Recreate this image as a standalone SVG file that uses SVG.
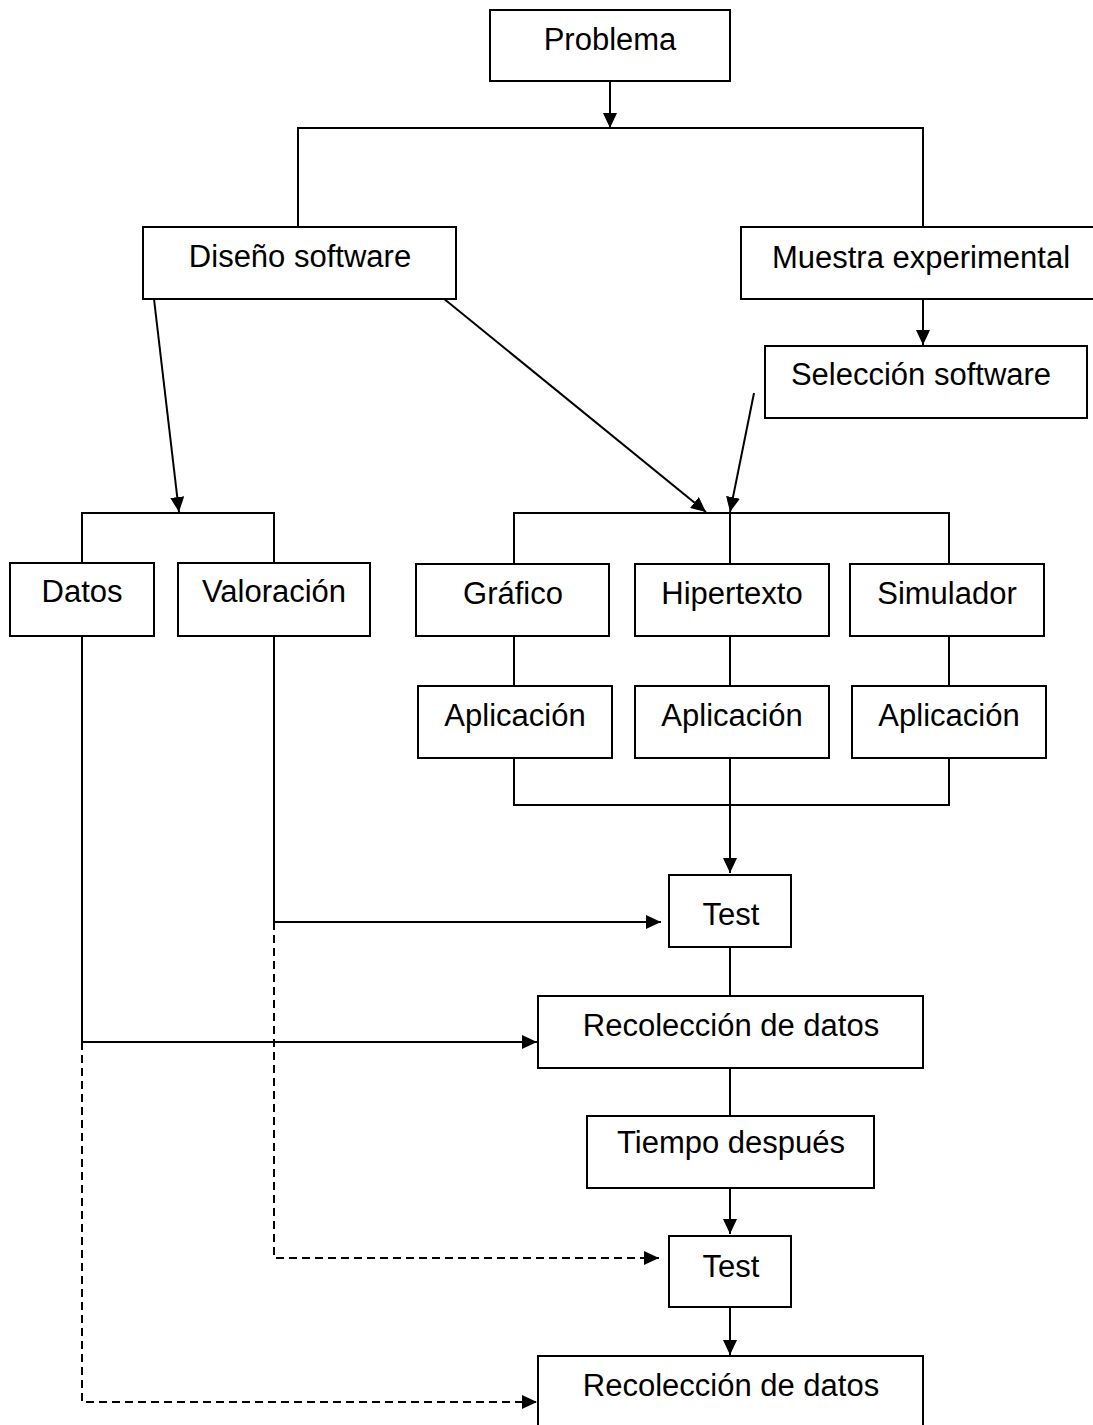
<svg xmlns="http://www.w3.org/2000/svg" width="1093" height="1425" viewBox="0 0 1093 1425">
<style>
.box{fill:#fff;stroke:#000;stroke-width:2}
.t{font-family:"Liberation Sans",Arial,sans-serif;font-size:31px;fill:#000;text-anchor:middle}
.c{fill:none;stroke:#000;stroke-width:2}
.d{stroke-dasharray:8,5}
.a{marker-end:url(#arr)}
</style>
<defs>
<marker id="arr" markerWidth="15" markerHeight="14" refX="15" refY="7" orient="auto" markerUnits="userSpaceOnUse"><path d="M0,0 L15,7 L0,14 z" fill="#000" stroke="none"/></marker>
</defs>
<rect width="1093" height="1425" fill="#fff"/>
<g id="connectors">
<path class="c a" d="M610,81 V128"/>
<path class="c" d="M298,227 V128 H923 V227"/>
<path class="c a" d="M923,299 V345"/>
<path class="c a" d="M154,299 L179,512"/>
<path class="c a" d="M443,298 L706,512"/>
<path class="c a" d="M754,393 L730,512"/>
<path class="c" d="M82,563 V513 H274 V563"/>
<path class="c" d="M514,564 V513 H949 V564 M730,513 V564"/>
<path class="c" d="M514,636 V686 M730,636 V686 M949,636 V686"/>
<path class="c" d="M514,758 V805 H949 V758 M730,758 V805"/>
<path class="c a" d="M730,805 V873"/>
<path class="c" d="M274,636 V922"/>
<path class="c a" d="M274,922 H661"/>
<path class="c" d="M730,947 V996"/>
<path class="c" d="M82,636 V1042"/>
<path class="c a" d="M82,1042 H537"/>
<path class="c" d="M730,1068 V1116"/>
<path class="c a" d="M730,1188 V1234"/>
<path class="c a" d="M730,1307 V1355"/>
<path class="c d a" d="M274,922 V1258 H659"/>
<path class="c d a" d="M82,1042 V1402 H537"/>
</g>
<g id="problema"><rect class="box" x="490" y="10" width="240" height="71"/><text class="t" x="610" y="50">Problema</text></g>
<g id="diseno"><rect class="box" x="143" y="227" width="313" height="72"/><text class="t" x="300" y="267">Diseño software</text></g>
<g id="muestra"><rect class="box" x="741" y="227" width="362" height="72"/><text class="t" x="921" y="268">Muestra experimental</text></g>
<g id="seleccion"><rect class="box" x="765" y="346" width="322" height="72"/><text class="t" x="921" y="385">Selección software</text></g>
<g id="datos"><rect class="box" x="10" y="563" width="144" height="73"/><text class="t" x="82" y="602">Datos</text></g>
<g id="valoracion"><rect class="box" x="178" y="563" width="192" height="73"/><text class="t" x="274" y="602">Valoración</text></g>
<g id="grafico"><rect class="box" x="416" y="564" width="193" height="72"/><text class="t" x="513" y="604">Gráfico</text></g>
<g id="hipertexto"><rect class="box" x="635" y="564" width="194" height="72"/><text class="t" x="732" y="604">Hipertexto</text></g>
<g id="simulador"><rect class="box" x="850" y="564" width="194" height="72"/><text class="t" x="947" y="604">Simulador</text></g>
<g id="aplicacion1"><rect class="box" x="418" y="686" width="194" height="72"/><text class="t" x="515" y="726">Aplicación</text></g>
<g id="aplicacion2"><rect class="box" x="635" y="686" width="194" height="72"/><text class="t" x="732" y="726">Aplicación</text></g>
<g id="aplicacion3"><rect class="box" x="852" y="686" width="194" height="72"/><text class="t" x="949" y="726">Aplicación</text></g>
<g id="test1"><rect class="box" x="669" y="875" width="122" height="72"/><text class="t" x="731" y="925">Test</text></g>
<g id="recoleccion1"><rect class="box" x="538" y="996" width="385" height="72"/><text class="t" x="731" y="1036">Recolección de datos</text></g>
<g id="tiempo"><rect class="box" x="587" y="1116" width="287" height="72"/><text class="t" x="731" y="1153">Tiempo después</text></g>
<g id="test2"><rect class="box" x="669" y="1236" width="122" height="71"/><text class="t" x="731" y="1277">Test</text></g>
<g id="recoleccion2"><rect class="box" x="538" y="1356" width="385" height="80"/><text class="t" x="731" y="1396">Recolección de datos</text></g>
</svg>
